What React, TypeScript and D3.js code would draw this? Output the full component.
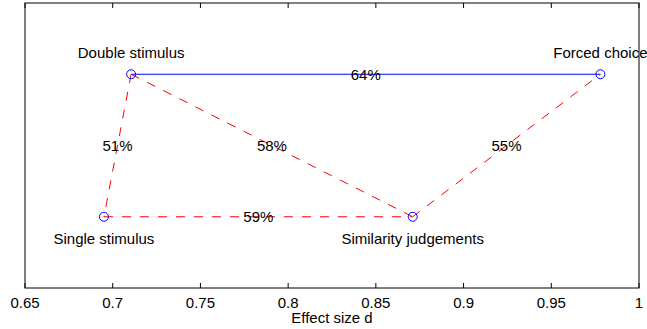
import { useMemo } from 'react'
import * as d3 from 'd3'

const W = 647
const H = 329
const MARGIN = { top: 3, right: 8, bottom: 41, left: 25 }

// conditions, their effect sizes and row (2 = top row, 1 = bottom row)
const names = ['Double stimulus', 'Forced choice', 'Single stimulus', 'Similarity judgements']
const effects = [0.7105, 0.978, 0.695, 0.871]
const rows = [2, 2, 1, 1]
const labelSide = [-1, -1, 1, 1] // -1 above, 1 below

// pairs of conditions with agreement percentage
const linkFrom = [0, 0, 0, 2, 3]
const linkTo = [1, 2, 3, 3, 1]
const linkPct = ['64%', '51%', '58%', '59%', '55%']
const linkSolid = [true, false, false, false, false]

const xTicks = [0.65, 0.7, 0.75, 0.8, 0.85, 0.9, 0.95, 1]

const FS = 15

export default function App() {
  const bw = W - MARGIN.left - MARGIN.right
  const bh = H - MARGIN.top - MARGIN.bottom

  const x = useMemo(() => d3.scaleLinear().domain([0.65, 1]).range([0, bw]), [bw])
  const y = useMemo(() => d3.scaleLinear().domain([0.5, 2.5]).range([bh, 0]), [bh])

  const font = 'Liberation Sans, Arial, Helvetica, sans-serif'

  return (
    <svg
      width={W}
      height={H}
      style={{ position: 'absolute', left: 0, top: 0, display: 'block', background: 'white' }}
      fontFamily={font}
    >
      <g transform={`translate(${MARGIN.left},${MARGIN.top})`}>
        <rect width={bw} height={bh} fill="white" stroke="black" strokeWidth={1} />
        {xTicks.map((t) => (
          <g key={t}>
            <line x1={x(t)} x2={x(t)} y1={bh} y2={bh - 5} stroke="black" />
            <line x1={x(t)} x2={x(t)} y1={0} y2={5} stroke="black" />
            <text x={x(t)} y={bh + 14} textAnchor="middle" dominantBaseline="central" fontSize={FS}>
              {t}
            </text>
          </g>
        ))}
        <text x={bw / 2} y={bh + 29} textAnchor="middle" dominantBaseline="central" fontSize={FS}>
          Effect size d
        </text>

        {linkFrom.map((a, i) => {
          const b = linkTo[i]
          const x1 = x(effects[a])
          const y1 = y(rows[a])
          const x2 = x(effects[b])
          const y2 = y(rows[b])
          return (
            <line
              key={'l' + i}
              x1={x1}
              y1={y1}
              x2={x2}
              y2={y2}
              stroke={linkSolid[i] ? '#0000ff' : '#ff0000'}
              strokeWidth={1}
              strokeDasharray={linkSolid[i] ? undefined : '9,9'}
            />
          )
        })}
        {linkFrom.map((a, i) => {
          const b = linkTo[i]
          const mx = (x(effects[a]) + x(effects[b])) / 2
          const my = (y(rows[a]) + y(rows[b])) / 2
          return (
            <text key={'p' + i} x={mx} y={my} textAnchor="middle" dominantBaseline="central" fontSize={FS}>
              {linkPct[i]}
            </text>
          )
        })}

        {names.map((n, i) => (
          <g key={n}>
            <circle cx={x(effects[i])} cy={y(rows[i])} r={4.5} fill="none" stroke="#0000ff" />
            <text
              x={x(effects[i])}
              y={y(rows[i]) + labelSide[i] * 22}
              textAnchor="middle"
              dominantBaseline="central"
              fontSize={FS}
            >
              {n}
            </text>
          </g>
        ))}
      </g>
    </svg>
  )
}
